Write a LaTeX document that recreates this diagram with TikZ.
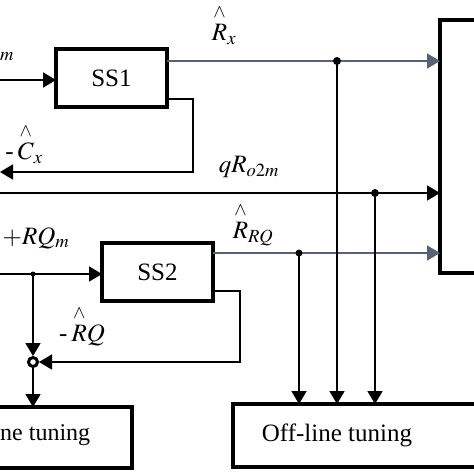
\documentclass[tikz,border=0pt]{standalone}
\usepackage{mathptmx}
\usepackage{fontspec}
\setmainfont{Liberation Serif}
\usetikzlibrary{arrows.meta}
\definecolor{slate}{RGB}{88,98,118}
\newcommand{\hathigh}[1]{{\stackrel{\scriptstyle\wedge}{\rule{0pt}{0.72em}#1}}}
\tikzset{
  blk/.style={draw, line width=4pt, inner sep=0pt, outer sep=0pt, minimum width=111pt, minimum height=58pt, font=\fontsize{25}{29}\selectfont},
  wire/.style={line width=1.8pt, -{Triangle[length=13pt,width=15pt]}},
  gwire/.style={wire, draw=slate, color=slate},
  lbl/.style={font=\fontsize{25}{29}\selectfont, inner sep=0pt},
  txt/.style={font=\fontsize{25}{29}\selectfont, inner sep=0pt},
  dot/.style={fill=black}
}
\begin{document}
\begin{tikzpicture}[x=1pt,y=-1pt]
\useasboundingbox (0,0) rectangle (474,474);
\clip (0,0) rectangle (474,474);
% blocks
\node[blk] (ss1) at (111.5,78) {SS1};
\node[blk] (ss2) at (157.5,272) {SS2};
\node[blk, minimum width=80pt, minimum height=253pt] (rb) at (480,146.5) {};
\node[blk, minimum width=300pt, minimum height=63pt] (off) at (383,435.5) {};
\node[blk, minimum width=232pt, minimum height=61pt] (on) at (16,437.5) {};
\node[txt] (offt) at (337,435) {Off-line tuning};
\node[txt, anchor=west, font=\fontsize{24}{28}\selectfont] (ont) at (0,435) {ne tuning};
% coordinates
\coordinate (in1) at (0,80);
\coordinate (r1) at (337,61);
\coordinate (fb1) at (193,99);
\coordinate (fb1b) at (0,172);
\coordinate (q0) at (0,193);
\coordinate (q1) at (375,193);
\coordinate (in2) at (0,274);
\coordinate (j0) at (33,274);
\coordinate (r3) at (299,253);
\coordinate (fb2) at (240,291);
\node[circle, draw, line width=3pt, minimum size=9pt, inner sep=0pt] (sum) at (33,362) {};
% SS1
\draw[wire] (in1) -- (in1 -| ss1.west);
\draw[gwire] (ss1.east |- r1) -- (rb.west |- r1);
\draw[wire] (ss1.east |- fb1) -- (fb1) |- (fb1b);
% long line
\draw[wire] (q0) -- (q0 -| rb.west);
% SS2
\draw[wire] (in2) -- (in2 -| ss2.west);
\draw[gwire] (ss2.east |- r3) -- (rb.west |- r3);
\draw[wire] (ss2.east |- fb2) -- (fb2) |- (sum.east);
\draw[wire] (j0) -- (sum.north);
\draw[wire] (sum.south) -- (sum.south |- on.north);
% verticals to off-line tuning
\draw[wire] (r3) -- (r3 |- off.north);
\draw[wire] (r1) -- (r1 |- off.north);
\draw[wire] (q1) -- (q1 |- off.north);
% dots
\fill[dot] (r1) circle (4pt);
\fill[dot] (q1) circle (4pt);
\fill[dot] (r3) circle (3.5pt);
\fill[dot] (j0) circle (2.5pt);
% labels
\node[lbl] (lrx) at (224,25) {$\hathigh{R}_x$};
\node[lbl] (lcx) at (24,144) {-\,$\hathigh{C}_x$};
\node[lbl] (lq) at (249,167) {$qR_{o2m}$};
\node[lbl] (lrrq) at (253,224) {$\hathigh{R}_{RQ}$};
\node[lbl] (lrqm) at (36,238) {$+RQ_m$};
\node[lbl] (lrq) at (82,326) {-\,$\hathigh{R}Q$};
\node[lbl] (lm) at (7,57) {$_m$};
\end{tikzpicture}
\end{document}
